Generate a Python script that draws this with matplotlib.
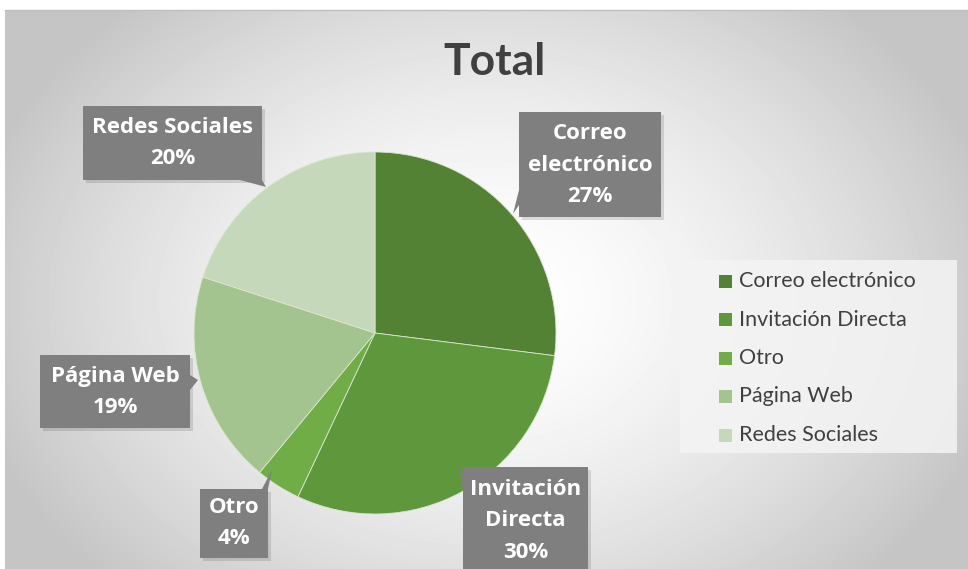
import numpy as np
import matplotlib.pyplot as plt
from matplotlib.patches import Rectangle, Polygon

# Datos
categorias = ['Correo electrónico', 'Invitación Directa', 'Otro', 'Página Web', 'Redes Sociales']
valores = [27, 30, 4, 19, 20]
etiquetas = ['Correo\nelectrónico\n27%', 'Invitación\nDirecta\n30%', 'Otro\n4%',
             'Página Web\n19%', 'Redes Sociales\n20%']
colores = ['#548235', '#5f983c', '#70ad47', '#a3c48f', '#c5d9ba']

plt.rcParams['font.family'] = ['Lato', 'DejaVu Sans']

W, H = 968, 569
fig = plt.figure(figsize=(W / 100, H / 100), dpi=100)

# fondo con degradado radial
bg = fig.add_axes([5 / W, 0, 1 - 5 / W, 1 - 10 / H])
yy, xx = np.mgrid[0:559, 0:963]
d = np.sqrt(((xx - 480) / 560.0) ** 2 + ((yy - 290) / 420.0) ** 2)
g = np.clip(1.0 - 0.25 * d ** 1.6, 0.77, 1.0)
bg.imshow(g, cmap='gray', vmin=0, vmax=1, aspect='auto', interpolation='bilinear')
bg.axis('off')
fig.add_artist(plt.Line2D([5 / W, 1], [1 - 10 / H, 1 - 10 / H], color='#bfbfbf', lw=1))

ax = fig.add_axes([0, 0, 1, 1])
ax.patch.set_alpha(0)

def Y(y):
    return H - y

ax.pie(valores, colors=colores, startangle=90, counterclock=False,
       center=(375, Y(333)), radius=181, frame=True,
       wedgeprops=dict(linewidth=0.6, edgecolor='#d9e6d0'))
ax.set_xlim(0, W)
ax.set_ylim(0, H)
ax.set_aspect('equal')
ax.axis('off')

ax.text(494, Y(62), 'Total', ha='center', va='center', fontsize=32,
        fontweight='bold', color='#404040')

# cajas de etiquetas: (x0, y0, x1, y1)
cajas = [
    (519, 112, 661, 217),
    (463, 467, 588, 585),
    (200, 489, 268, 558),
    (40, 355, 190, 428),
    (83, 106, 262, 180),
]
centros_y = [165, 521, 523, 392, 143]
punteros = [
    [(519, 190), (513, 214), (519, 205)],
    [(463, 490), (458, 460), (463, 475)],
    [(262, 489), (272, 470), (268, 489)],
    [(190, 375), (198, 380), (190, 390)],
    [(240, 180), (266, 187), (262, 180)],
]
for (x0, y0, x1, y1), cy, pt, txt in zip(cajas, centros_y, punteros, etiquetas):
    ax.add_patch(Rectangle((x0 + 3, Y(y1) - 3), x1 - x0, y1 - y0,
                           facecolor='#000000', alpha=0.12, lw=0, zorder=3))
    ax.add_patch(Rectangle((x0, Y(y1)), x1 - x0, y1 - y0,
                           facecolor='#7f7f7f', lw=0, zorder=4))
    ax.add_patch(Polygon([(px, Y(py)) for px, py in pt], closed=True,
                         facecolor='#7f7f7f', lw=0, zorder=4))
    ax.text((x0 + x1) / 2, Y(cy), txt, ha='center', va='center', fontsize=16,
            fontweight='bold', color='white', linespacing=1.65, zorder=5,
            family=['Open Sans', 'DejaVu Sans'])

# leyenda
ax.add_patch(Rectangle((680, Y(453)), 277, 193, facecolor='#f4f4f4',
                       alpha=0.85, lw=0, zorder=2))
for i, (cat, col) in enumerate(zip(categorias, colores)):
    yl = 281 + i * 38.5
    ax.add_patch(Rectangle((719, Y(yl) - 6.5), 13, 13, facecolor=col, lw=0, zorder=3))
    ax.text(739, Y(yl), cat, ha='left', va='center', fontsize=15.5,
            color='#404040', zorder=3)

fig.savefig('out.png', dpi=100)
